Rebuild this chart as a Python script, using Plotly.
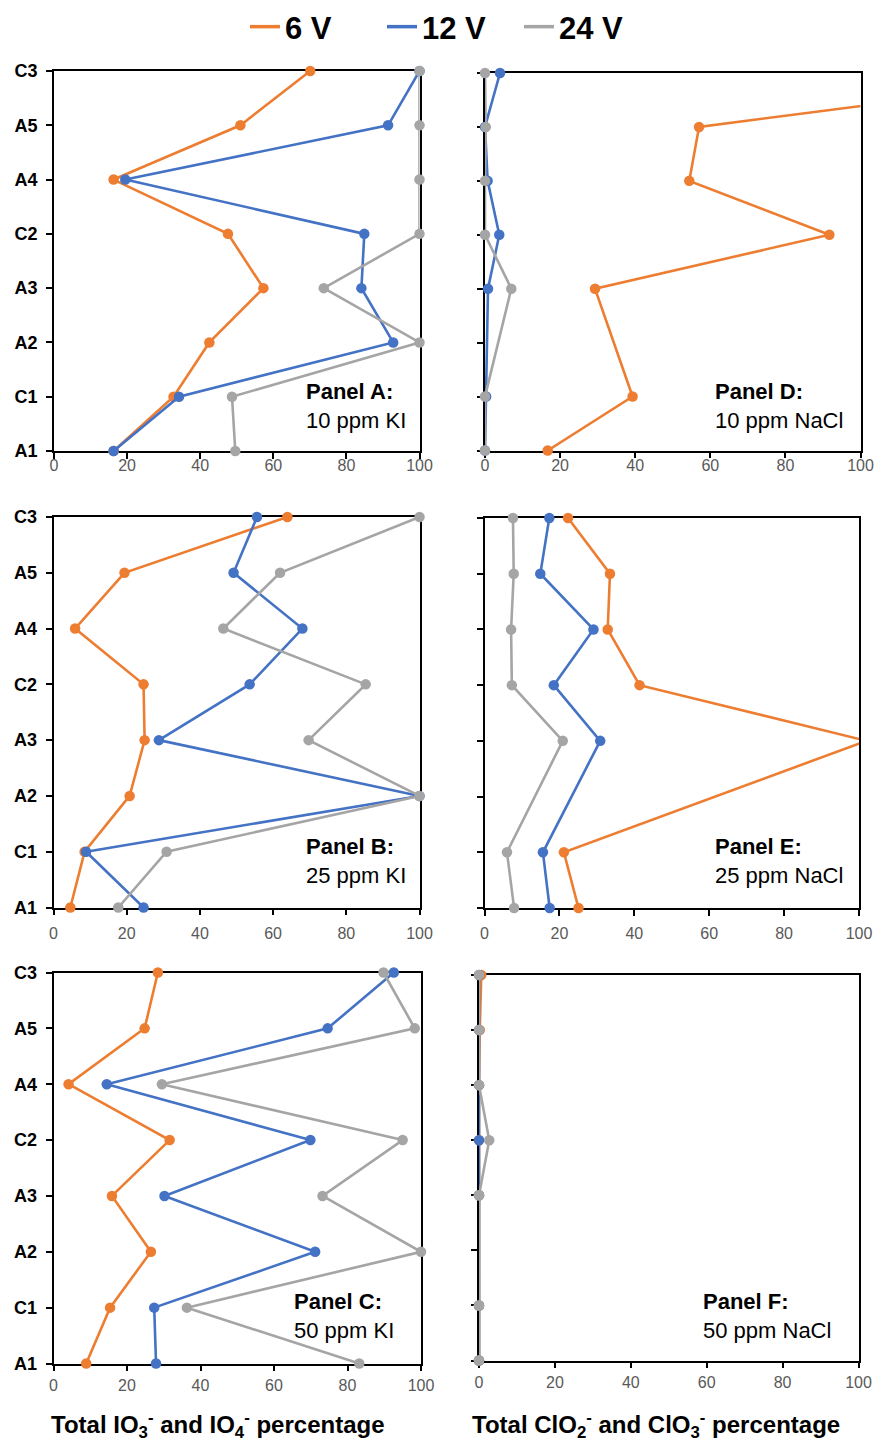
import plotly.graph_objects as go

# Sampling positions, bottom to top
positions = ["A1", "C1", "A2", "A3", "C2", "A4", "A5", "C3"]
x_ticks = [0, 20, 40, 60, 80, 100]

voltages = ["6 V", "12 V", "24 V"]
colors = ["#ED7D31", "#4472C4", "#A5A5A5"]

# Total IO3- and IO4- percentage (KI panels)
a_6v = [16.3, 32.7, 42.5, 57.3, 47.6, 16.3, 51.0, 70.1]
a_12v = [16.3, 34.2, 92.8, 84.1, 84.9, 19.5, 91.4, 100]
a_24v = [49.6, 48.7, 100, 73.8, 100, 100, 100, 100]

b_6v = [4.6, 8.5, 20.8, 24.9, 24.6, 5.9, 19.4, 63.9]
b_12v = [24.6, 8.9, 100, 28.8, 53.6, 68.0, 49.2, 55.6]
b_24v = [17.7, 30.9, 100, 69.7, 85.3, 46.4, 61.9, 100]

c_6v = [8.9, 15.4, 26.5, 15.9, 31.6, 4.1, 24.8, 28.4]
c_12v = [27.9, 27.4, 71.2, 30.2, 69.9, 14.5, 74.6, 92.6]
c_24v = [83.2, 36.3, 100, 73.2, 95.0, 29.5, 98.3, 89.8]

# Total ClO2- and ClO3- percentage (NaCl panels); A2 not sampled
d_6v = [16.7, 39.3, None, 29.3, 91.7, 54.4, 57.0, 168]
d_12v = [0, 0.3, None, 0.8, 3.8, 0.7, 0, 4.0]
d_24v = [0, 0, None, 7.0, 0, 0, 0.2, 0]

e_6v = [25.1, 21.2, None, 102, 41.4, 32.9, 33.5, 22.3]
e_12v = [17.4, 15.6, None, 30.9, 18.5, 29.1, 14.9, 17.3]
e_24v = [7.9, 6.0, None, 20.9, 7.3, 7.1, 7.8, 7.6]

f_6v = [0, 0, None, 0, 0, 0, 0.2, 0.6]
f_12v = [0, 0, None, 0, 0, 0, 0, 0]
f_24v = [0, 0, None, 0, 2.7, 0, 0, 0]

panel_titles = ["Panel A:", "Panel D:", "Panel B:", "Panel E:", "Panel C:", "Panel F:"]
panel_subtitles = ["10 ppm KI", "10 ppm NaCl", "25 ppm KI", "25 ppm NaCl",
                   "50 ppm KI", "50 ppm NaCl"]
x_title_left = "Total IO<sub>3</sub><sup>-</sup> and IO<sub>4</sub><sup>-</sup> percentage"
x_title_right = "Total ClO<sub>2</sub><sup>-</sup> and ClO<sub>3</sub><sup>-</sup> percentage"

panels = [
    [a_6v, a_12v, a_24v],
    [d_6v, d_12v, d_24v],
    [b_6v, b_12v, b_24v],
    [e_6v, e_12v, e_24v],
    [c_6v, c_12v, c_24v],
    [f_6v, f_12v, f_24v],
]

W, H = 881, 1443
FONT = "Liberation Sans, Arial, sans-serif"

# plot boxes in pixels: (left, right, top, bottom)
boxes = [
    (54, 419.5, 71, 451),
    (485, 860.5, 73, 450.5),
    (53.5, 419.5, 517, 907.5),
    (484.5, 859, 518, 908),
    (53.5, 421, 972.5, 1363.5),
    (479, 858.5, 975, 1360.5),
]
# gap between the x tick labels and their default place, per row
x_label_shift = [-7, -7, 4, 4, 0, 0]
# text anchor (left x, top y) of each panel label
label_pos = [(304, 377), (713, 377), (304, 832), (713, 832), (292, 1287), (701, 1287)]


def px_x(v):
    return v / W


def px_y(v):
    return 1 - v / H


fig = go.Figure()
layout = {}

for i, series in enumerate(panels):
    n = "" if i == 0 else str(i + 1)
    for name, color, vals in zip(voltages, colors, series):
        fig.add_trace(go.Scatter(
            x=vals, y=positions, xaxis="x" + n, yaxis="y" + n,
            mode="lines+markers", name=name, legendgroup=name, showlegend=False,
            connectgaps=True, cliponaxis=False,
            line=dict(color=color, width=2.6),
            marker=dict(color=color, size=10.5),
        ))
    left, right, top, bottom = boxes[i]
    is_left = i % 2 == 0
    layout["xaxis" + n] = dict(
        domain=[px_x(left), px_x(right)], anchor="y" + n,
        range=[0, 100], tickvals=x_ticks, ticks="outside", ticklen=6,
        tickcolor="black", tickwidth=1.5, ticklabelstandoff=x_label_shift[i],
        showline=True, linecolor="black", linewidth=1.8, mirror=True,
        showgrid=False, zeroline=False, layer="below traces",
        tickfont=dict(family=FONT, size=16, color="#595959"),
        automargin=False, fixedrange=True,
    )
    layout["yaxis" + n] = dict(
        domain=[px_y(bottom), px_y(top)], anchor="x" + n,
        type="category", categoryorder="array", categoryarray=positions,
        range=[0, 7], ticks="outside", ticklen=6, tickcolor="black", tickwidth=1.5,
        showticklabels=is_left, ticklabelstandoff=5,
        showline=True, linecolor="black", linewidth=1.8, mirror=True,
        showgrid=False, zeroline=False, layer="below traces",
        tickfont=dict(family=FONT, size=18, color="black", weight="bold"),
        automargin=False, fixedrange=True,
    )

# legend entries: line samples only
for name, color in zip(voltages, colors):
    fig.add_trace(go.Scatter(
        x=[None], y=[None], mode="lines", name=name, legendgroup=name,
        line=dict(color=color, width=3.5), showlegend=True,
    ))

annotations = []
for (lx, ly), t, s in zip(label_pos, panel_titles, panel_subtitles):
    annotations.append(dict(
        xref="paper", yref="paper", x=px_x(lx), y=px_y(ly),
        xanchor="left", yanchor="top", align="left", showarrow=False,
        text="<b>" + t + "</b><br>" + s,
        font=dict(family=FONT, size=22, color="black"),
    ))

annotations.append(dict(
    xref="paper", yref="paper", x=px_x(218), y=px_y(1425),
    xanchor="center", yanchor="middle", showarrow=False,
    text="<b>" + x_title_left + "</b>",
    font=dict(family=FONT, size=24, color="black"),
))
annotations.append(dict(
    xref="paper", yref="paper", x=px_x(656), y=px_y(1425),
    xanchor="center", yanchor="middle", showarrow=False,
    text="<b>" + x_title_right + "</b>",
    font=dict(family=FONT, size=24, color="black"),
))

fig.update_layout(
    **layout,
    width=W, height=H,
    margin=dict(l=0, r=0, t=0, b=0, autoexpand=False),
    template="none",
    paper_bgcolor="white", plot_bgcolor="white",
    showlegend=True,
    legend=dict(
        orientation="h", x=0.5 + 10 / W, xanchor="center", y=1, yanchor="top",
        entrywidth=92, entrywidthmode="pixels",
        font=dict(family=FONT, size=31, color="black", weight="bold"),
        bgcolor="rgba(0,0,0,0)", itemclick=False, itemdoubleclick=False,
    ),
    annotations=annotations,
)

fig.write_html("out.html")
